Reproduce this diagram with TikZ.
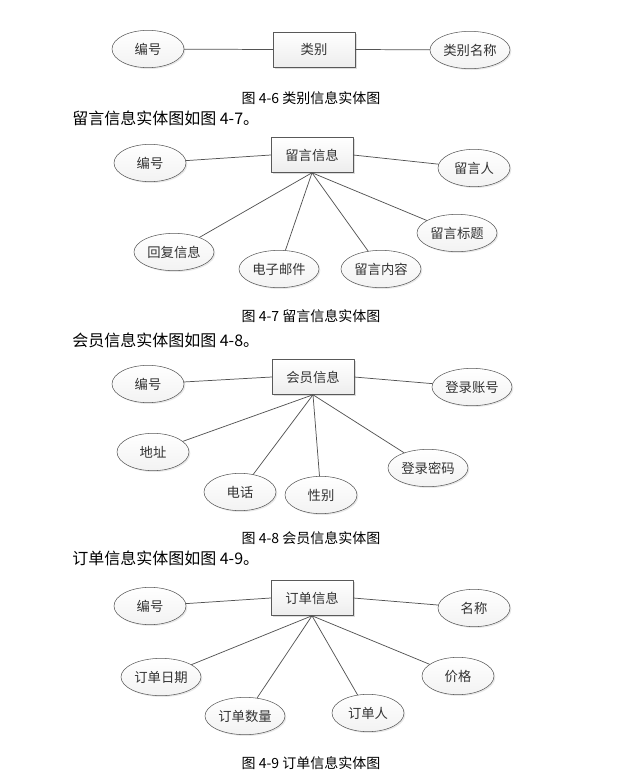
\documentclass[tikz,border=0pt]{standalone}
\usepackage{fontspec}
\setmainfont{Noto Sans CJK SC}
\usetikzlibrary{shapes.geometric,shadows}

\tikzset{
  ent/.style={draw=gray!70!black,rectangle,minimum width=61.5pt,minimum height=26.25pt,
    inner sep=0pt,top color=white,bottom color=gray!14,font=\fontsize{10}{12}\selectfont,
    text=black!80,drop shadow={shadow xshift=1.2pt,shadow yshift=-1.2pt,fill=gray!45,opacity=0.6}},
  attr/.style={draw=gray!70!black,ellipse,minimum width=54pt,minimum height=28pt,
    inner sep=0pt,top color=white,bottom color=gray!10,font=\fontsize{10}{12}\selectfont,
    text=black!80,drop shadow={shadow xshift=1pt,shadow yshift=-1pt,fill=gray!35,opacity=0.5}},
  wide/.style={minimum width=60pt},
  link/.style={draw=gray!65!black,line width=0.55pt},
  figcap/.style={font=\fontsize{10.5}{12}\selectfont,inner sep=0pt},
  para/.style={font=\fontsize{12}{14}\selectfont,anchor=west,inner sep=0pt}
}

\begin{document}
\begin{tikzpicture}[x=0.75pt,y=-0.75pt,line cap=round,line join=round]
  \useasboundingbox (0,0) rectangle (638,776);

  % 4-6 类别
  \node[attr] (lbbh) at (148,49) {编号};
  \node[ent] (lb) at (314,49.5) {类别};
  \node[attr,wide] (lbmc) at (470,50) {类别名称};
  \draw[link] (lbbh) -- (lb.west);
  \draw[link] (lb.east) -- (lbmc);
  \node[figcap] (c46) at (311,98) {图 4-6 类别信息实体图};
  \node[para] (p47) at (72,118) {留言信息实体图如图 4-7。};

  % 4-7 留言信息
  \node[ent] (ly) at (312,155) {留言信息};
  \node[attr] (lybh) at (150,163) {编号};
  \node[attr] (lyr) at (474,168) {留言人};
  \node[attr,wide] (lyhf) at (174,252) {回复信息};
  \node[attr,wide] (lyyj) at (279,269) {电子邮件};
  \node[attr,wide] (lynr) at (381,269) {留言内容};
  \node[attr,wide] (lybt) at (457,233) {留言标题};
  \draw[link] (lybh) -- (ly.west);
  \draw[link] (ly.east) -- (lyr);
  \foreach \t in {lyhf,lyyj,lynr,lybt}
    \draw[link] (ly.south) -- (\t);
  \node[figcap] (c47) at (311,316) {图 4-7 留言信息实体图};
  \node[para] (p48) at (72,340) {会员信息实体图如图 4-8。};

  % 4-8 会员信息
  \node[ent] (hy) at (313,377) {会员信息};
  \node[attr] (hybh) at (148,384) {编号};
  \node[attr,wide] (hyzh) at (472,387) {登录账号};
  \node[attr] (hydz) at (153,452) {地址};
  \node[attr] (hydh) at (240,492) {电话};
  \node[attr] (hyxb) at (321,495) {性别};
  \node[attr,wide] (hymm) at (428,468) {登录密码};
  \draw[link] (hybh) -- (hy.west);
  \draw[link] (hy.east) -- (hyzh);
  \foreach \t in {hydz,hydh,hyxb,hymm}
    \draw[link] (hy.south) -- (\t);
  \node[figcap] (c48) at (311,538) {图 4-8 会员信息实体图};
  \node[para] (p49) at (72,558) {订单信息实体图如图 4-9。};

  % 4-9 订单信息
  \node[ent] (dd) at (312,598) {订单信息};
  \node[attr] (ddbh) at (150,606) {编号};
  \node[attr] (ddmc) at (474,608) {名称};
  \node[attr,wide] (ddrq) at (161,677) {订单日期};
  \node[attr,wide] (ddsl) at (245,716) {订单数量};
  \node[attr] (ddr) at (368,713) {订单人};
  \node[attr] (ddjg) at (458,676) {价格};
  \draw[link] (ddbh) -- (dd.west);
  \draw[link] (dd.east) -- (ddmc);
  \foreach \t in {ddrq,ddsl,ddr,ddjg}
    \draw[link] (dd.south) -- (\t);
  \node[figcap] (c49) at (311,763) {图 4-9 订单信息实体图};
\end{tikzpicture}
\end{document}
